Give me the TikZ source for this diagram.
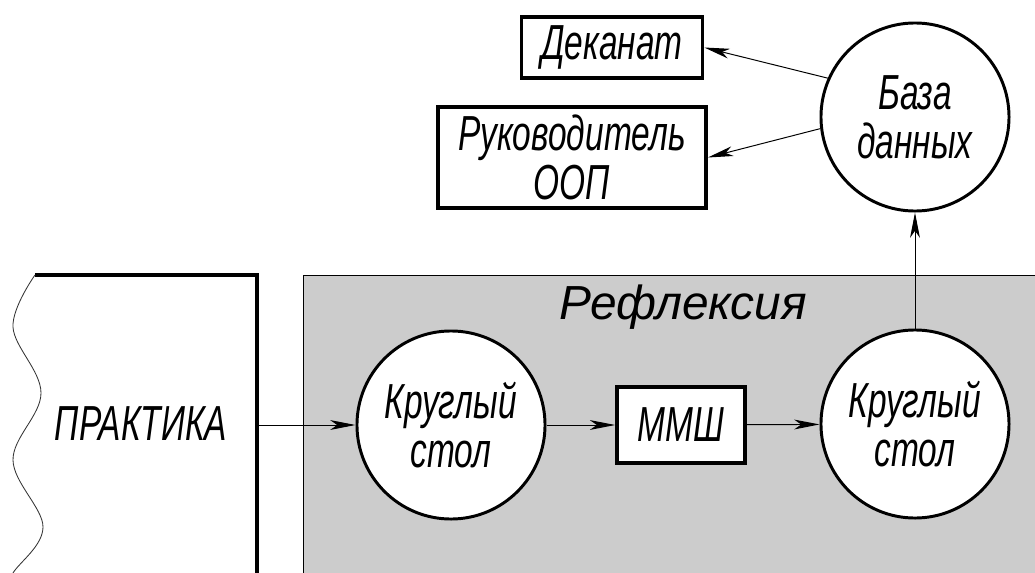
\documentclass[tikz,border=0pt]{standalone}
\usepackage{fontspec}
\setmainfont{Liberation Sans}
\newfontfamily\gostfont{Liberation Sans}[FakeStretch=0.68]
\usetikzlibrary{arrows.meta}
\definecolor{reflgray}{HTML}{CCCCCC}
\tikzset{
  gost/.style={font=\gostfont\itshape\fontsize{35}{35}\selectfont},
  krug/.style={circle, draw, line width=2.1pt, fill=white, minimum size=4.7cm,
    inner sep=0pt, align=center, gost},
  blok/.style={rectangle, draw, line width=2.6pt, fill=white, inner sep=0pt,
    align=center, gost},
  strelka/.style={-{Stealth[length=18pt,width=7pt,inset=5pt]}, line width=0.7pt},
}
\begin{document}
\begin{tikzpicture}[x=0.025cm, y=-0.025cm]
    \useasboundingbox (0,0) rectangle (1035,573);
    \clip (0,0) rectangle (1035,573);

    \filldraw[fill=reflgray, draw=black, line width=0.6pt] (303,275) rectangle (1045,585);
    \node[font=\itshape\fontsize{34}{36}\selectfont] (refl) at (683,307) {Рефлексия};

    \draw[line width=3.5pt] (35,275) -- (257,275) -- (257,590);
    \draw[line width=0.6pt, black!80] plot[smooth, tension=0.6] coordinates
        {(35,275) (13,327) (41,393) (13,460) (43,527) (13,573) (6,590)};
    \node[gost] (praktika) at (141,424) {ПРАКТИКА};
    \coordinate (prakt-out) at (257,425);

    \node[krug] (kr1) at (451,425) {Круглый\\стол};
    \node[blok, minimum width=3.2cm, minimum height=1.9cm] (mmsh) at (681,425) {ММШ};
    \node[krug] (kr2) at (915,424) {Круглый\\стол};
    \node[krug] (bd) at (915,117) {База\\данных};

    \node[blok, minimum width=4.52cm, minimum height=1.52cm] (dekanat) at (612,47.5) {Деканат};
    \node[blok, minimum width=6.7cm, minimum height=2.52cm] (ruk) at (572,157.5) {Руководитель\\ООП};

    \draw[strelka] (prakt-out) -- (kr1);
    \draw[strelka] (kr1) -- (mmsh);
    \draw[strelka] (mmsh) -- (kr2);
    \draw[strelka] (kr2) -- (bd);
    \draw[strelka] (bd.156) -- (dekanat.east);
    \draw[strelka] (bd.187) -- (ruk.east);
\end{tikzpicture}
\end{document}
